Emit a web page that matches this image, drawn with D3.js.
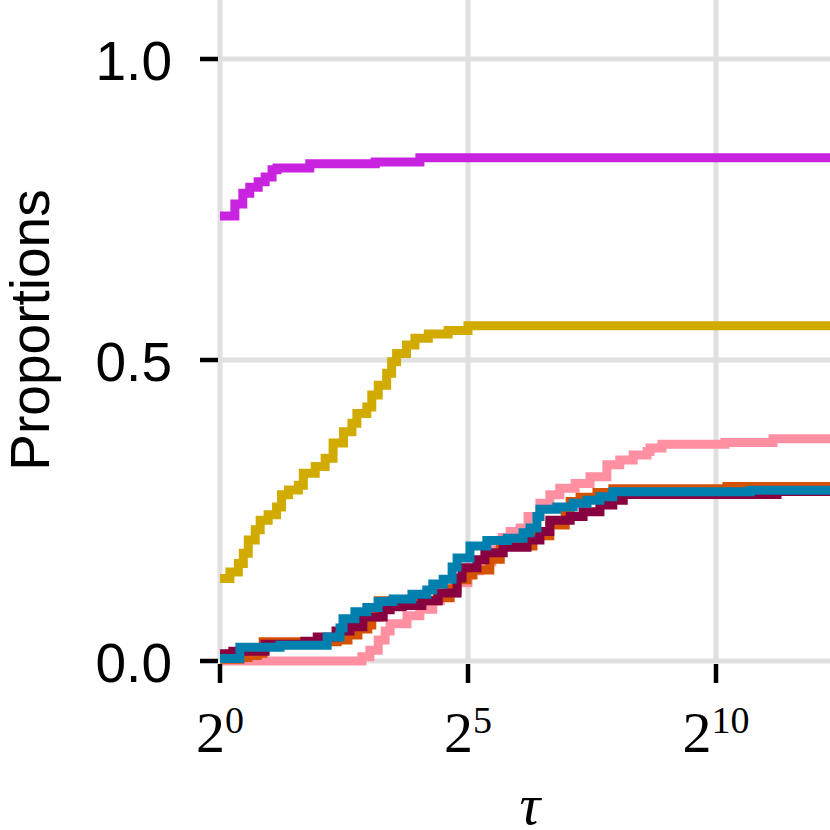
<!DOCTYPE html>
<html>
<head>
<meta charset="utf-8">
<script src="https://cdn.jsdelivr.net/npm/d3@7"></script>
<style>
  html, body { margin: 0; padding: 0; background: #fff; }
  svg { display: block; }
</style>
</head>
<body>
<svg id="chart" width="830" height="830"></svg>
<script>
// ---- data: x values are log2(tau), y values are proportions ----
const magentaX = [0, 0.30, 0.46, 0.60, 0.77, 0.91, 1.05, 1.15, 1.81, 3.13, 4.03];
const magentaY = [0.739, 0.759, 0.777, 0.787, 0.796, 0.804, 0.816, 0.819, 0.826, 0.829, 0.836];

const goldX = [0, 0.20, 0.37, 0.47, 0.57, 0.71, 0.81, 0.97, 1.14, 1.24, 1.38, 1.58, 1.68, 1.92, 2.12, 2.28, 2.49, 2.66, 2.76, 2.96, 3.06, 3.19, 3.36, 3.46, 3.56, 3.76, 3.93, 4.20, 4.60, 5.00];
const goldY = [0.137, 0.148, 0.162, 0.179, 0.201, 0.218, 0.234, 0.243, 0.256, 0.276, 0.284, 0.292, 0.312, 0.323, 0.337, 0.362, 0.381, 0.395, 0.411, 0.422, 0.442, 0.458, 0.478, 0.497, 0.511, 0.525, 0.536, 0.543, 0.549, 0.557];

const pinkX = [0, 2.86, 3.02, 3.19, 3.33, 3.43, 3.77, 4.03, 4.29, 4.44, 4.74, 5.00, 5.24, 5.48, 5.69, 5.85, 6.05, 6.21, 6.45, 6.65, 6.85, 7.16, 7.46, 7.80, 8.06, 8.33, 8.61, 8.67, 8.91, 10.18, 11.15];
const pinkY = [0, 0.007, 0.018, 0.035, 0.050, 0.062, 0.075, 0.086, 0.100, 0.113, 0.130, 0.150, 0.165, 0.185, 0.205, 0.215, 0.221, 0.240, 0.262, 0.276, 0.287, 0.295, 0.306, 0.326, 0.334, 0.342, 0.348, 0.354, 0.360, 0.363, 0.369];

const orangeX = [0, 0.40, 0.56, 0.75, 0.87, 2.36, 2.58, 2.78, 2.98, 3.06, 3.19, 4.38, 4.64, 4.78, 4.98, 5.10, 5.44, 5.65, 6.31, 6.65, 6.96, 7.06, 7.26, 7.60, 7.92, 10.22];
const orangeY = [0.003, 0.006, 0.009, 0.013, 0.032, 0.035, 0.043, 0.053, 0.060, 0.073, 0.100, 0.105, 0.120, 0.135, 0.143, 0.151, 0.169, 0.191, 0.208, 0.226, 0.245, 0.265, 0.272, 0.280, 0.286, 0.290];

const crimsonX = [0, 0.26, 0.91, 1.71, 1.96, 2.34, 2.62, 2.88, 3.29, 3.43, 3.67, 4.07, 4.40, 4.78, 4.88, 5.18, 5.34, 5.71, 6.19, 6.45, 6.65, 7.06, 7.32, 7.66, 7.92, 8.13, 11.23];
const crimsonY = [0.012, 0.016, 0.028, 0.033, 0.040, 0.050, 0.057, 0.073, 0.085, 0.090, 0.092, 0.100, 0.113, 0.138, 0.155, 0.168, 0.180, 0.189, 0.201, 0.215, 0.234, 0.240, 0.248, 0.259, 0.267, 0.2765, 0.2815];

const blueX = [0, 0.40, 1.21, 2.16, 2.42, 2.48, 2.72, 2.96, 3.19, 3.49, 3.87, 4.17, 4.29, 4.50, 4.68, 4.78, 5.04, 5.38, 5.79, 6.11, 6.25, 6.39, 6.45, 6.79, 7.12, 7.40, 7.66, 7.92, 10.69];
const blueY = [0.004, 0.023, 0.026, 0.040, 0.055, 0.070, 0.082, 0.089, 0.099, 0.103, 0.111, 0.118, 0.128, 0.136, 0.156, 0.171, 0.191, 0.200, 0.204, 0.213, 0.221, 0.240, 0.252, 0.256, 0.262, 0.267, 0.273, 0.281, 0.2835];

const xTickExps = [0, 5, 10];
const yTicks = [0.0, 0.5, 1.0];
const yTickLabels = ["0.0", "0.5", "1.0"];
const xLabel = "τ";
const yLabel = "Proportions";

const series = [
  { name: "gold", xs: goldX, ys: goldY, color: "#d2ab00" },
  { name: "magenta", xs: magentaX, ys: magentaY, color: "#c823de" },
  { name: "pink", xs: pinkX, ys: pinkY, color: "#ff8fa1" },
  { name: "orange", xs: orangeX, ys: orangeY, color: "#d45200" },
  { name: "crimson", xs: crimsonX, ys: crimsonY, color: "#880040" },
  { name: "blue", xs: blueX, ys: blueY, color: "#0080ae" }
];

// ---- layout ----
const svg = d3.select("#chart");
const x = d3.scaleLinear().domain([0, 10]).range([220, 716]);
const y = d3.scaleLinear().domain([0, 1]).range([661, 59]);
const xMax = 13;
const gridColor = "#e0e0e0";

// gridlines
const grid = svg.append("g");
grid.selectAll("line.vg").data(xTickExps).join("line")
  .attr("x1", d => x(d)).attr("x2", d => x(d))
  .attr("y1", 0).attr("y2", y(0))
  .attr("stroke", gridColor).attr("stroke-width", 5);
grid.selectAll("line.hg").data(yTicks).join("line")
  .attr("x1", x(0)).attr("x2", 830)
  .attr("y1", d => y(d)).attr("y2", d => y(d))
  .attr("stroke", gridColor).attr("stroke-width", 5);

// lines
const line = d3.line()
  .x(d => x(d[0]))
  .y(d => y(d[1]))
  .curve(d3.curveStepAfter);

const linesG = svg.append("g");
series.forEach(s => {
  const pts = s.xs.map((v, i) => [v, s.ys[i]]);
  pts.push([xMax, s.ys[s.ys.length - 1]]);
  linesG.append("path")
    .datum(pts)
    .attr("d", line)
    .attr("fill", "none")
    .attr("stroke", s.color)
    .attr("stroke-width", 9)
    .attr("stroke-linejoin", "miter")
    .attr("stroke-linecap", "butt");
});

// y ticks & labels
const yAxisG = svg.append("g");
yAxisG.selectAll("line").data(yTicks).join("line")
  .attr("x1", 200).attr("x2", 218)
  .attr("y1", d => y(d)).attr("y2", d => y(d))
  .attr("stroke", "#000").attr("stroke-width", 4.5);
yAxisG.selectAll("text").data(yTicks).join("text")
  .attr("x", 172)
  .attr("y", d => y(d) + 21)
  .attr("text-anchor", "end")
  .attr("font-family", "'Liberation Sans', Arial, sans-serif")
  .attr("font-size", 55)
  .attr("fill", "#000")
  .text((d, i) => yTickLabels[i]);

// x ticks & labels
const xAxisG = svg.append("g");
xAxisG.selectAll("line").data(xTickExps).join("line")
  .attr("x1", d => x(d)).attr("x2", d => x(d))
  .attr("y1", 664).attr("y2", 683)
  .attr("stroke", "#000").attr("stroke-width", 4.5);
xAxisG.selectAll("text").data(xTickExps).join("text")
  .attr("x", d => x(d))
  .attr("y", 752)
  .attr("text-anchor", "middle")
  .attr("font-family", "'Liberation Serif', 'Times New Roman', serif")
  .attr("font-size", 58)
  .attr("fill", "#000")
  .each(function(d) {
    const t = d3.select(this);
    t.append("tspan").text("2");
    t.append("tspan").attr("font-size", 38).attr("dy", -19).text(String(d));
  });

// axis titles
svg.append("text")
  .attr("x", 530).attr("y", 824)
  .attr("text-anchor", "middle")
  .attr("font-family", "'Liberation Serif', 'Times New Roman', serif")
  .attr("font-style", "italic")
  .attr("font-size", 58)
  .attr("fill", "#000")
  .text(xLabel);

svg.append("text")
  .attr("transform", "translate(49,330) rotate(-90)")
  .attr("text-anchor", "middle")
  .attr("font-family", "'Liberation Sans', Arial, sans-serif")
  .attr("font-size", 55)
  .attr("fill", "#000")
  .text(yLabel);
</script>
</body>
</html>
